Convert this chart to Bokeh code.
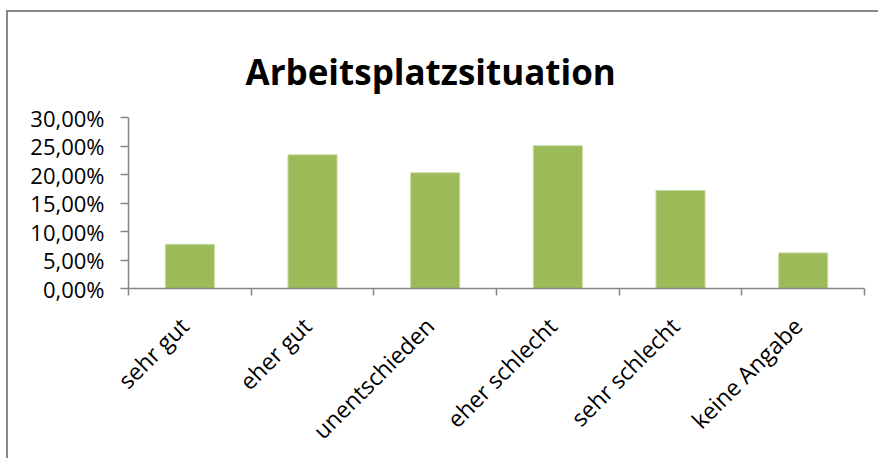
from bokeh.plotting import figure
from bokeh.models import Range1d, FixedTicker, LinearAxis, Title, ColumnDataSource
from bokeh.embed import file_html
from bokeh.resources import INLINE
import math

title_text = "Arbeitsplatzsituation"
categories = ["sehr gut", "eher gut", "unentschieden", "eher schlecht", "sehr schlecht", "keine Angabe"]
values = [0.0775, 0.2345, 0.2030, 0.2505, 0.1720, 0.0625]
y_ticks = [0.0, 0.05, 0.10, 0.15, 0.20, 0.25, 0.30]
y_tick_labels = ["0,00%", "5,00%", "10,00%", "15,00%", "20,00%", "25,00%", "30,00%"]

FONT = "Open Sans"
GRAY = "#868686"
LABEL_SHIFT = -0.045  # small horizontal nudge of rotated category labels

n = len(categories)
centers = [i + 0.5 for i in range(n)]
label_pos = [c + LABEL_SHIFT for c in centers]
bounds = [float(i) for i in range(n + 1)]

p = figure(
    frame_width=736, frame_height=171,
    min_border_left=120, min_border_right=14, min_border_top=105, min_border_bottom=160,
    x_range=Range1d(0, n), y_range=Range1d(y_ticks[0], y_ticks[-1]),
    output_backend="svg", toolbar_location=None,
    x_axis_type=None, y_axis_type=None,
)
p.margin = (10, 0, 0, 6)
p.styles = {"border-left": "2px solid #888888", "border-top": "2px solid #888888"}
p.outline_line_color = None
p.background_fill_color = "white"
p.border_fill_color = "white"

src = ColumnDataSource(dict(x=centers, top=values, cat=categories))
p.vbar(x="x", top="top", bottom=0, width=0.4, source=src,
       fill_color="#9bbb59", line_color="#c8dba2", line_width=1)

# y axis
yt = FixedTicker(ticks=y_ticks, minor_ticks=[])
yaxis = LinearAxis(ticker=yt)
yaxis.major_label_overrides = {t: l for t, l in zip(y_ticks, y_tick_labels)}
yaxis.major_label_text_font = FONT
yaxis.major_label_text_font_size = "22px"
yaxis.major_label_text_color = "black"
yaxis.major_label_standoff = 16
yaxis.major_tick_out = 8
yaxis.major_tick_in = 0
yaxis.major_tick_line_color = GRAY
yaxis.major_tick_line_width = 1.5
yaxis.minor_tick_line_color = None
yaxis.axis_line_color = GRAY
yaxis.axis_line_width = 1.5
p.add_layout(yaxis, "left")

# x axis: labels at category centres, ticks at category boundaries
xt = FixedTicker(ticks=label_pos, minor_ticks=bounds)
xaxis = LinearAxis(ticker=xt)
xaxis.major_label_overrides = {c: l for c, l in zip(label_pos, categories)}
xaxis.major_label_orientation = math.pi / 4
xaxis.major_label_text_font = FONT
xaxis.major_label_text_font_size = "23px"
xaxis.major_label_text_color = "black"
xaxis.major_label_standoff = 26
xaxis.major_tick_line_color = None
xaxis.major_tick_out = 0
xaxis.major_tick_in = 0
xaxis.minor_tick_out = 7
xaxis.minor_tick_in = 0
xaxis.minor_tick_line_color = GRAY
xaxis.minor_tick_line_width = 1.5
xaxis.axis_line_color = GRAY
xaxis.axis_line_width = 1.5
p.add_layout(xaxis, "below")

p.xgrid.visible = False
p.ygrid.ticker = yt
p.ygrid.grid_line_color = GRAY
p.ygrid.grid_line_width = 1.5

title = Title(text=title_text, text_font=FONT, text_font_style="bold",
              text_font_size="35px", align="left", offset=117,
              vertical_align="bottom", standoff=45, text_color="black")
p.add_layout(title, "above")

open("out.html", "w").write(file_html(p, INLINE))
